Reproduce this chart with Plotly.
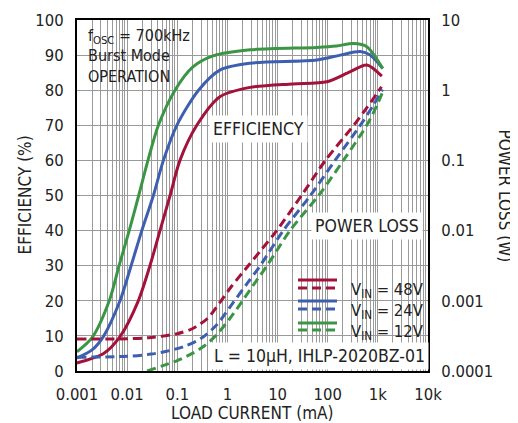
import plotly.graph_objects as go

# ---------------- data (load current in mA) ----------------
# Efficiency (%)
eff48_i = [0.001, 0.0034, 0.0072, 0.0167, 0.0285, 0.0452, 0.0718, 0.113, 0.245, 0.72, 2.84, 20, 96, 283, 603, 1200]
eff48_v = [2.3, 5.0, 9.8, 20.0, 30.0, 40.0, 50.0, 60.0, 70.0, 78.2, 80.8, 81.8, 82.4, 85.3, 87.2, 84.0]

eff24_i = [0.001, 0.002, 0.00335, 0.0072, 0.012, 0.0196, 0.0334, 0.0528, 0.098, 0.265, 0.72, 2.84, 60.8, 178, 446, 700, 1250]
eff24_v = [3.7, 6.0, 9.8, 20.0, 30.0, 40.0, 50.0, 60.0, 70.0, 80.0, 85.8, 87.7, 88.6, 90.0, 91.0, 90.0, 86.2]

eff12_i = [0.001, 0.002, 0.0044, 0.0069, 0.011, 0.017, 0.026, 0.042, 0.09, 0.2, 0.5, 2.84, 60, 150, 327, 603, 1250]
eff12_v = [5.5, 9.5, 20.0, 30.0, 40.0, 50.0, 60.0, 70.0, 80.0, 86.5, 89.7, 91.5, 92.2, 92.6, 93.3, 92.4, 86.2]

# Power loss (W)
loss48_i = [0.001, 0.01, 0.03, 0.1, 0.2, 0.4, 0.7, 1.2, 2.6, 4.5, 9.6, 30, 90, 330, 600, 1000, 1180]
loss48_v = [2.85e-4, 2.88e-4, 3.0e-4, 3.4e-4, 4.0e-4, 5.6e-4, 9.4e-4, 1.6e-3, 3.16e-3, 5.1e-3,
            1.0e-2, 3.16e-2, 0.1, 0.316, 0.56, 0.94, 1.12]

loss24_i = [0.001, 0.01, 0.03, 0.07, 0.15, 0.3, 0.6, 1.3, 2.5, 4.5, 13, 45, 140, 446, 800, 1240]
loss24_v = [1.57e-4, 1.62e-4, 1.74e-4, 1.95e-4, 2.29e-4, 2.92e-4, 4.47e-4, 9.44e-4, 1.78e-3, 3.16e-3,
            1.0e-2, 3.16e-2, 0.1, 0.316, 0.6, 1.02]

loss12_i = [0.025, 0.05, 0.1, 0.2, 0.35, 0.6, 1.1, 2.0, 3.5, 6.5, 17.7, 70, 205, 600, 950, 1250]
loss12_v = [1.0e-4, 1.18e-4, 1.41e-4, 1.78e-4, 2.29e-4, 3.24e-4, 5.5e-4, 1.0e-3, 1.78e-3, 3.35e-3,
            1.0e-2, 3.35e-2, 0.1, 0.316, 0.6, 0.955]

x_tickvals = [0.001, 0.01, 0.1, 1, 10, 100, 1000, 10000]
x_ticktext = ["0.001", "0.01", "0.1", "1", "10", "100", "1k", "10k"]
y2_tickvals = [0.0001, 0.001, 0.01, 0.1, 1, 10]
y2_ticktext = ["0.0001", "0.001", "0.01", "0.1", "1", "10"]

RED = "#A3123A"
BLUE = "#3E5FB0"
GREEN = "#3A9645"
FONT = "DejaVu Sans Condensed, Liberation Sans Narrow, sans-serif"
TICK_FS = 16.5
NOTE_FS = 17.5
BOX_FS = 16
LEG_FS = 16.5
TITLE_FS = 17
TXT = "#222"

fig = go.Figure()

for xi, yv, col in [(eff48_i, eff48_v, RED), (eff24_i, eff24_v, BLUE), (eff12_i, eff12_v, GREEN)]:
    fig.add_trace(go.Scatter(x=xi, y=yv, mode="lines", yaxis="y",
                             line=dict(color=col, width=3, shape="spline", smoothing=0.8),
                             showlegend=False, hoverinfo="skip"))
for xi, yv, col in [(loss48_i, loss48_v, RED), (loss24_i, loss24_v, BLUE), (loss12_i, loss12_v, GREEN)]:
    fig.add_trace(go.Scatter(x=xi, y=yv, mode="lines", yaxis="y2",
                             line=dict(color=col, width=3, dash="9px,5px", shape="spline", smoothing=0.8),
                             showlegend=False, hoverinfo="skip"))

grid = "#9a9a9a"
fig.update_layout(
    width=510, height=415,
    margin=dict(l=69, r=90, t=12, b=52),
    paper_bgcolor="white", plot_bgcolor="white",
    font=dict(family=FONT, size=TICK_FS, color=TXT),
    xaxis=dict(type="log", range=[-3, 4], tickvals=x_tickvals, ticktext=x_ticktext,
               showgrid=True, gridcolor=grid, gridwidth=1,
               minor=dict(dtick="D1", showgrid=True, gridcolor=grid, gridwidth=1, ticks=""),
               showline=True, linecolor="black", linewidth=2, mirror=True,
               ticks="outside", ticklen=7, tickcolor="rgba(0,0,0,0)",
               zeroline=False, fixedrange=True, automargin=False),
    yaxis=dict(range=[0, 100], dtick=10, showgrid=True, gridcolor=grid, gridwidth=1,
               showline=True, linecolor="black", linewidth=2, mirror=True,
               ticks="outside", ticklen=8, tickcolor="rgba(0,0,0,0)",
               zeroline=False, fixedrange=True, automargin=False),
    yaxis2=dict(type="log", range=[-4, 1], overlaying="y", side="right",
                tickvals=y2_tickvals, ticktext=y2_ticktext, showgrid=False,
                showline=True, linecolor="black", linewidth=2,
                ticks="outside", ticklen=8, tickcolor="rgba(0,0,0,0)",
                zeroline=False, fixedrange=True, automargin=False),
)

def px_x(p):
    return (p - 77) / 351.0

def px_y(p):
    return (371 - p) / 351.0

# white boxes that hide the grid behind the notes
for x0, x1, y0, y1 in [(77, 176, 88, 20), (290, 428, 343, 268)]:
    fig.add_shape(type="rect", xref="paper", yref="paper",
                  x0=px_x(x0), x1=px_x(x1), y0=px_y(y0), y1=px_y(y1),
                  fillcolor="white", line=dict(width=0), layer="below")

# legend sample lines (solid = efficiency, dashed = power loss)
for col, ys, yd in [(RED, 280, 288), (BLUE, 301, 309), (GREEN, 323, 330)]:
    fig.add_shape(type="line", xref="paper", yref="paper", x0=px_x(298), x1=px_x(337),
                  y0=px_y(ys), y1=px_y(ys), line=dict(color=col, width=3))
    fig.add_shape(type="line", xref="paper", yref="paper", x0=px_x(298), x1=px_x(337),
                  y0=px_y(yd), y1=px_y(yd), line=dict(color=col, width=3, dash="9px,5px"))

def note(text, x, y, xanchor="center", yanchor="middle", bg="rgba(0,0,0,0)", angle=0, size=NOTE_FS):
    fig.add_annotation(text=text, xref="paper", yref="paper", x=x, y=y,
                       xanchor=xanchor, yanchor=yanchor, showarrow=False,
                       bgcolor=bg, borderpad=3, textangle=angle,
                       font=dict(family=FONT, size=size, color=TXT))

for t, yc in [("V<sub>IN</sub> = 48V", 290), ("V<sub>IN</sub> = 24V", 311), ("V<sub>IN</sub> = 12V", 332)]:
    note(t, px_x(347), px_y(yc), xanchor="left", size=LEG_FS)

note("f<sub>OSC</sub> = 700kHz", px_x(84), px_y(36), xanchor="left", size=BOX_FS)
note("Burst Mode", px_x(84), px_y(55), xanchor="left", size=BOX_FS)
note("OPERATION", px_x(84), px_y(76), xanchor="left", size=BOX_FS)
note("EFFICIENCY", px_x(258), px_y(129), bg="white")
note("POWER LOSS", px_x(367), px_y(226), bg="white")
note("L = 10µH, IHLP-2020BZ-01", px_x(319), px_y(356), bg="white")

note("EFFICIENCY (%)", px_x(24), 0.5, angle=-90, size=TITLE_FS)
note("POWER LOSS (W)", px_x(505), 0.5, angle=90, size=TITLE_FS)
note("LOAD CURRENT (mA)", px_x(252), px_y(413), size=TITLE_FS)

fig.write_html("out.html")
